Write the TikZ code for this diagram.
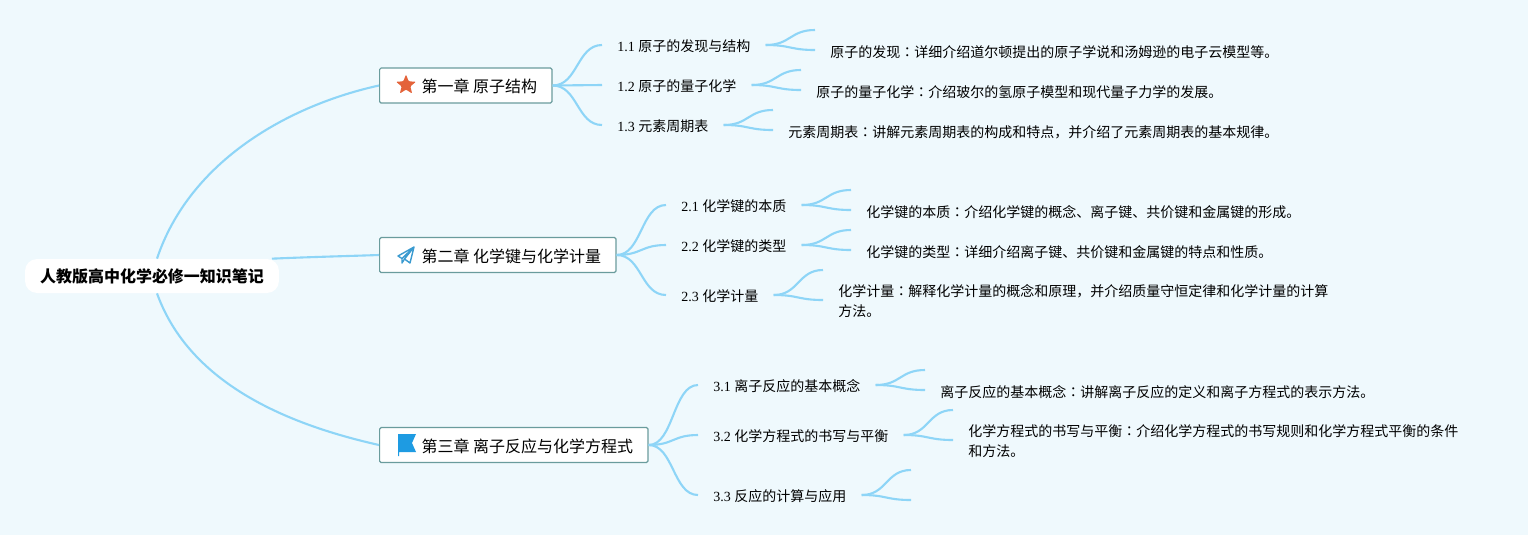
\documentclass[tikz,border=0pt]{standalone}
\usepackage{fontspec}
\setmainfont{Liberation Serif}
\newfontfamily\cjk{Noto Sans CJK SC}
\newfontfamily\cjkjp{Noto Sans CJK JP}
\usepackage{tikz}
\usetikzlibrary{shapes.geometric}
\definecolor{paper}{HTML}{EFF9FD}
\definecolor{linkblue}{HTML}{8ED5F7}
\definecolor{boxteal}{HTML}{6A9C9D}
\definecolor{staricon}{HTML}{E4633A}
\definecolor{planeicon}{HTML}{3B9BD0}
\definecolor{flagicon}{HTML}{1E9BE2}
\tikzset{
  link/.style={draw=linkblue, line width=1.2pt},
  roottopic/.style={fill=white, rounded corners=0.24cm, minimum width=5.08cm, minimum height=0.68cm, inner sep=0pt, font=\fontsize{9.1}{12}\selectfont\cjk\bfseries},
  chapbox/.style={draw=boxteal, fill=white, line width=0.7pt, rounded corners=0.03cm, anchor=west, minimum height=0.7cm, inner xsep=0.3cm, inner ysep=0pt, text height=9pt, text depth=0.94pt, font=\fontsize{9.1}{12}\selectfont\cjk},
  secnode/.style={anchor=west, inner xsep=0.3cm, inner ysep=0pt, text height=8.2pt, text depth=1pt, font=\fontsize{7.97}{12}\selectfont},
  detail/.style={anchor=west, align=left, inner xsep=0.3cm, inner ysep=0pt, font=\fontsize{7.97}{11.6}\selectfont\cjk},
  oneline/.style={detail, text height=9.3pt, text depth=1pt}
}
\newcommand{\chapgap}{\hspace*{0.54cm}}
\newcommand{\midcolon}{{\cjkjp ：}}
\newcommand{\firstpad}{\rule{0pt}{8.3pt}}

\begin{document}
\begin{tikzpicture}[x=0.02cm, y=-0.02cm]
\useasboundingbox[fill=paper] (0,0) rectangle (1528,535);

% Root and chapters
\node[roottopic] (root) at (152,276) {人教版高中化学必修一知识笔记};
\node[chapbox] (chap1) at (379,85.5) {\chapgap 第一章 原子结构};
\node[chapbox] (chap2) at (379,255) {\chapgap 第二章 化学键与化学计量};
\node[chapbox] (chap3) at (379,445) {\chapgap 第三章 离子反应与化学方程式};

% Sections
\node[secnode] (sec11) at (602,45) {1.1 {\cjk 原子的发现与结构}};
\node[secnode] (sec12) at (602,85) {1.2 {\cjk 原子的量子化学}};
\node[secnode] (sec13) at (602,125) {1.3 {\cjk 元素周期表}};
\node[secnode] (sec21) at (666,205) {2.1 {\cjk 化学键的本质}};
\node[secnode] (sec22) at (666,245) {2.2 {\cjk 化学键的类型}};
\node[secnode] (sec23) at (666,295) {2.3 {\cjk 化学计量}};
\node[secnode] (sec31) at (698,385) {3.1 {\cjk 离子反应的基本概念}};
\node[secnode] (sec32) at (698,435) {3.2 {\cjk 化学方程式的书写与平衡}};
\node[secnode] (sec33) at (698,495) {3.3 {\cjk 反应的计算与应用}};

% Details
\node[oneline] (det11) at (815,50) {原子的发现\midcolon 详细介绍道尔顿提出的原子学说和汤姆逊的电子云模型等。};
\node[oneline] (det12) at (801,90) {原子的量子化学\midcolon 介绍玻尔的氢原子模型和现代量子力学的发展。};
\node[oneline] (det13) at (773,130) {元素周期表\midcolon 讲解元素周期表的构成和特点，并介绍了元素周期表的基本规律。};
\node[oneline] (det21) at (851,210) {化学键的本质\midcolon 介绍化学键的概念、离子键、共价键和金属键的形成。};
\node[oneline] (det22) at (851,250) {化学键的类型\midcolon 详细介绍离子键、共价键和金属键的特点和性质。};
\node[detail] (det23) at (823,300) {\firstpad 化学计量\midcolon 解释化学计量的概念和原理，并介绍质量守恒定律和化学计量的计算\\方法。};
\node[oneline] (det31) at (925,390) {离子反应的基本概念\midcolon 讲解离子反应的定义和离子方程式的表示方法。};
\node[detail] (det32) at (953,440) {\firstpad 化学方程式的书写与平衡\midcolon 介绍化学方程式的书写规则和化学方程式平衡的条件\\和方法。};

% Free ends
\coordinate (end11) at (815,30); \coordinate (end12) at (801,70); \coordinate (end13) at (773,110);
\coordinate (end21) at (851,190); \coordinate (end22) at (851,230); \coordinate (end23) at (823,270);
\coordinate (end31) at (925,370); \coordinate (end32) at (953,410);
\coordinate (end33a) at (911,470); \coordinate (end33b) at (911,500);

% Root branches
\draw[link] ([xshift=0.1cm]root.north) .. controls (190,160) and (290,105) .. (chap1.west);
\draw[link] ([xshift=2.4cm]root.north) .. controls (310,257) and (350,256) .. (chap2.west);
\draw[link] ([xshift=0.1cm]root.south) .. controls (190,385) and (290,425) .. (chap3.west);

% Chapter to section
\foreach \a/\b in {chap1/sec11, chap1/sec12, chap1/sec13, chap2/sec21, chap2/sec22, chap2/sec23, chap3/sec31, chap3/sec32, chap3/sec33}
  \draw[link] (\a.east) .. controls +(25,0) and +(-25,0) .. (\b.west);

% Section to detail
\foreach \a/\b in {sec11/det11, sec12/det12, sec13/det13, sec21/det21, sec22/det22, sec23/det23, sec31/det31, sec32/det32}
  \draw[link] (\a.east) .. controls +(25,0) and +(-25,0) .. (\b.west);
\foreach \a/\b in {sec11/end11, sec12/end12, sec13/end13, sec21/end21, sec22/end22, sec23/end23, sec31/end31, sec32/end32, sec33/end33a, sec33/end33b}
  \draw[link] (\a.east) .. controls +(25,0) and +(-25,0) .. (\b);

% Icons
\node[star, star points=5, star point ratio=2.3, fill=staricon, rounded corners=0.02cm, minimum size=0.42cm, inner sep=0pt] (staric) at (406,85) {};
\draw[planeicon, line width=0.8pt, line join=round] (398,256) -- (414,247) -- (410,263) -- (404.5,259) -- (402,263) -- (402,258.5) -- cycle (402,258.5) -- (414,247) (404.5,259) -- (414,247);
\fill[flagicon] (398,434) -- (416,434) -- (412,443) -- (416,452) -- (399.2,452) -- (399.2,456) -- (398,456) -- cycle;
\end{tikzpicture}
\end{document}
